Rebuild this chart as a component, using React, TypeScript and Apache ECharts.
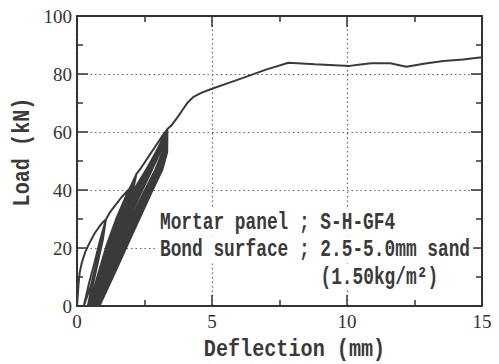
import React, { useEffect, useRef } from "react";
import * as echarts from "echarts";

// Initial loading: origin -> first peak
const initialDefl = [0, 0.03, 0.06, 0.1, 0.18, 0.3, 0.45, 0.65, 0.8, 0.95, 1.07];
const initialLoad = [0, 4, 8, 11.5, 15, 18.5, 21.5, 25, 27, 28.8, 29.8];

// Two unload/reload loops at the first peak
const cycle1Defl = [1.0, 0.9, 0.7, 0.5, 0.25, 0.45, 0.65, 0.85, 1.0, 1.07, 1.02, 0.93, 0.75, 0.58, 0.4, 0.58, 0.78, 0.95, 1.07];
const cycle1Load = [27, 22, 14, 6.5, 0, 8, 15, 22.5, 27.5, 29.8, 27, 22, 14, 7, 0, 8, 15.5, 22.5, 29.8];

// Envelope: first peak -> second peak
const envelope2Defl = [1.2, 1.4, 1.65, 1.95, 2.1, 2.2];
const envelope2Load = [32, 34.5, 37.5, 40.5, 43.5, 45.5];

// Two loops at the second peak
const cycle2Defl = [2.1, 1.9, 1.6, 1.3, 0.9, 0.45, 0.75, 1.1, 1.45, 1.8, 2.2, 2.12, 1.95, 1.68, 1.38, 0.98, 0.52, 0.82, 1.18, 1.52, 1.85, 2.2];
const cycle2Load = [42, 37, 30, 22, 11, 0, 10, 21, 30, 37.5, 45.5, 42, 37, 30, 22, 11, 0, 10, 21, 30, 37.5, 45.5];

// Envelope: second peak -> third peak
const envelope3Defl = [2.4, 2.65, 2.9, 3.15, 3.35];
const envelope3Load = [48, 51.5, 55, 58.5, 61];

// Eight loops at the third peak (unload then reload, each row one loop)
const cycle3Defl = [
  3.16, 2.9, 2.52, 1.72, 1.1, 0.52, 0.88, 1.3, 2.1, 2.56, 2.92, 3.35,
  3.19, 2.94, 2.56, 1.77, 1.15, 0.57, 0.93, 1.35, 2.15, 2.6, 2.95, 3.35,
  3.22, 2.98, 2.6, 1.82, 1.2, 0.62, 0.98, 1.4, 2.2, 2.63, 2.97, 3.35,
  3.25, 3.02, 2.64, 1.87, 1.25, 0.67, 1.03, 1.45, 2.25, 2.66, 3.0, 3.35,
  3.27, 3.06, 2.68, 1.92, 1.3, 0.71, 1.08, 1.5, 2.3, 2.69, 3.02, 3.35,
  3.3, 3.1, 2.72, 1.96, 1.35, 0.75, 1.12, 1.55, 2.34, 2.72, 3.04, 3.35,
  3.32, 3.13, 2.76, 2.01, 1.39, 0.79, 1.16, 1.6, 2.38, 2.75, 3.06, 3.35,
  3.34, 3.16, 2.8, 2.06, 1.43, 0.83, 1.2, 1.65, 2.42, 2.78, 3.08, 3.35,
];
const cycle3Load = [
  53, 47, 40, 25, 12, 0, 12, 25, 40, 47, 53, 61,
  53, 47, 40, 25, 12, 0, 12, 25, 40, 47, 53, 61,
  53, 47, 40, 25, 12, 0, 12, 25, 40, 47, 53, 61,
  53, 47, 40, 25, 12, 0, 12, 25, 40, 47, 53, 61,
  53, 47, 40, 25, 12, 0, 12, 25, 40, 47, 53, 61,
  53, 47, 40, 25, 12, 0, 12, 25, 40, 47, 53, 61,
  53, 47, 40, 25, 12, 0, 12, 25, 40, 47, 53, 61,
  53, 47, 40, 25, 12, 0, 12, 25, 40, 47, 53, 61,
];

// Final monotonic loading to 15 mm
const finalDefl = [3.5, 3.7, 3.9, 4.1, 4.3, 4.6, 5.05, 5.7, 6.28, 7.0, 7.83, 8.8, 10.1, 10.5, 10.9, 11.6, 12.2, 12.9, 13.57, 14.3, 15];
const finalLoad = [62.3, 64.8, 67.5, 70.2, 72, 73.5, 75.1, 77.2, 79.1, 81.5, 83.9, 83.4, 82.8, 83.3, 83.7, 83.7, 82.5, 83.6, 84.5, 85.0, 85.8];

const xTicks = { min: 0, max: 15, interval: 5 };
const yTicks = { min: 0, max: 100, interval: 20 };

const annotationLines = [
  "Mortar panel ; S-H-GF4",
  "Bond surface ; 2.5-5.0mm sand",
  "(1.50kg/m²)",
];
const xTitle = "Deflection (mm)";
const yTitle = "Load (kN)";

function zip(d: number[], l: number[]) {
  return d.map((v, i) => [v, l[i]]);
}

export default function App() {
  const ref = useRef<HTMLDivElement>(null);
  useEffect(() => {
    document.body.style.margin = "0";
    const chart = echarts.init(ref.current!, null, { renderer: "svg" });
    const data = [
      ...zip(initialDefl, initialLoad),
      ...zip(cycle1Defl, cycle1Load),
      ...zip(envelope2Defl, envelope2Load),
      ...zip(cycle2Defl, cycle2Load),
      ...zip(envelope3Defl, envelope3Load),
      ...zip(cycle3Defl, cycle3Load),
      ...zip(finalDefl, finalLoad),
    ];
    const ink = "#333";
    const axisLine = { show: true, onZero: false, lineStyle: { color: ink, width: 2 } };
    const tick = { show: true, inside: true, length: 11, lineStyle: { color: ink, width: 1.5 } };
    const minor = { show: true, splitNumber: 2, length: 6, lineStyle: { color: ink, width: 1.5 } };
    const grid = { show: true, lineStyle: { color: "#666", width: 1.2, type: [1.5, 3] as any } };
    const labelFont = { fontFamily: "Liberation Serif", fontSize: 19, color: ink };
    const annX = 157;
    chart.setOption({
      animation: false,
      backgroundColor: "#fff",
      grid: { left: 77, right: 17, top: 16, bottom: 58 },
      xAxis: [
        {
          type: "value", ...xTicks, position: "bottom",
          axisLine, axisTick: tick, minorTick: minor, splitLine: grid,
          axisLabel: { ...labelFont, margin: 6 },
        },
        {
          type: "value", ...xTicks, position: "top",
          axisLine, axisTick: tick, minorTick: minor, splitLine: { show: false },
          axisLabel: { show: false },
        },
      ],
      yAxis: [
        {
          type: "value", ...yTicks, position: "left",
          axisLine, axisTick: tick, minorTick: minor, splitLine: grid,
          axisLabel: { ...labelFont, margin: 5 },
        },
        {
          type: "value", ...yTicks, position: "right",
          axisLine, axisTick: tick, minorTick: minor, splitLine: { show: false },
          axisLabel: { show: false },
        },
      ],
      series: [
        {
          type: "line",
          data,
          showSymbol: false,
          symbol: "none",
          lineStyle: { color: "#3a3a3a", width: 2 },
          z: 5,
        },
      ],
      graphic: [
        ...annotationLines.map((t, i) => ({
          type: "text",
          z: 100,
          x: i === 2 ? annX + 15 * 10.7 : annX,
          y: 222 + i * 27.5,
          scaleX: 0.743,
          style: {
            text: t,
            fontFamily: "Liberation Mono",
            fontSize: 24,
            fontWeight: "bold",
            fill: "#3a3a3a",
            align: "left",
            verticalAlign: "middle",
            backgroundColor: "#fff",
            padding: [1, 4],
          },
        })),
        {
          type: "text",
          z: 100,
          x: 294.5,
          y: 350,
          scaleX: 0.84,
          style: {
            text: xTitle, fontFamily: "Liberation Mono", fontSize: 24, fontWeight: "bold",
            fill: "#3a3a3a", align: "center", verticalAlign: "middle",
          },
        },
        {
          type: "text",
          z: 100,
          x: 23,
          y: 152,
          rotation: Math.PI / 2,
          scaleX: 0.84,
          style: {
            text: yTitle, fontFamily: "Liberation Mono", fontSize: 24, fontWeight: "bold",
            fill: "#3a3a3a", align: "center", verticalAlign: "middle",
          },
        },
      ],
    });
    return () => chart.dispose();
  }, []);
  return <div ref={ref} style={{ width: 499, height: 364 }} />;
}
